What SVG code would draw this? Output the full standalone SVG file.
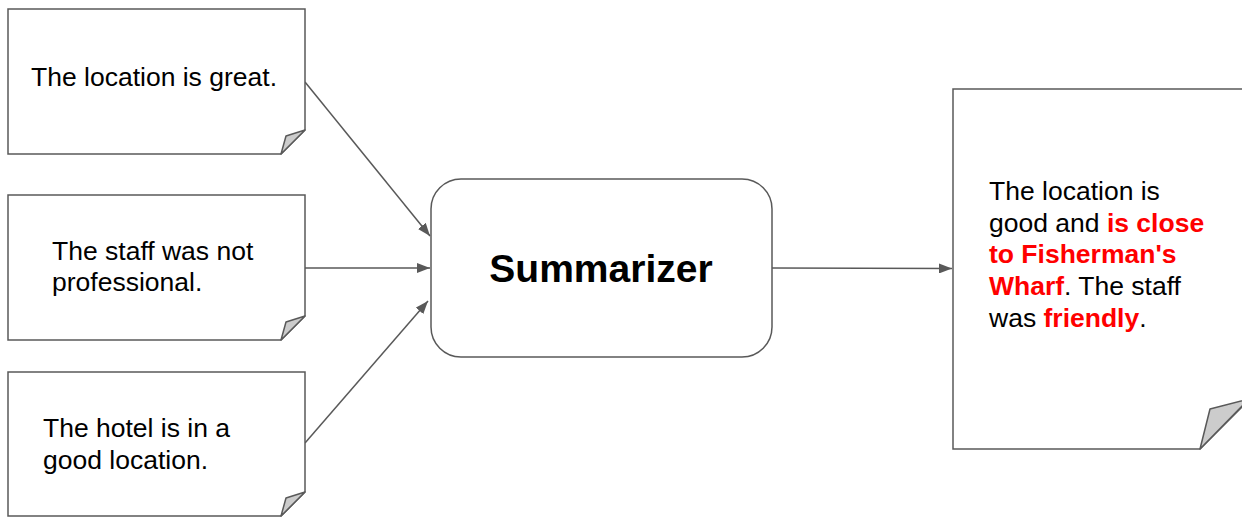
<svg xmlns="http://www.w3.org/2000/svg" width="1242" height="517" viewBox="0 0 1242 517">
<style>
.note{fill:#ffffff;stroke:#595959;stroke-width:1.5;stroke-linejoin:miter}
.fold{fill:#cccccc;stroke:#595959;stroke-width:1.5;stroke-linejoin:round}
.t{font-family:"Liberation Sans",Arial,sans-serif;font-size:26.5px;fill:#000000}
.r{font-weight:bold;fill:#ff0000}
.conn{fill:none;stroke:#595959;stroke-width:1.5}
</style>
<defs>
<marker id="ah" markerUnits="userSpaceOnUse" viewBox="0 0 13 10" refX="13" refY="5" markerWidth="13" markerHeight="10" orient="auto">
<path d="M0,0 L13,5 L0,10 Z" fill="#595959"/>
</marker>
</defs>
<rect width="1242" height="517" fill="#ffffff"/>
<g id="connectors">
<line class="conn" x1="305" y1="82" x2="430" y2="236" marker-end="url(#ah)"/>
<line class="conn" x1="305" y1="268" x2="430" y2="268" marker-end="url(#ah)"/>
<line class="conn" x1="305" y1="443" x2="428" y2="301" marker-end="url(#ah)"/>
<line class="conn" x1="772" y1="268" x2="952" y2="268.5" marker-end="url(#ah)"/>
</g>
<g id="note1">
<path class="note" d="M8,9 H305 V130 L281,154 H8 Z"/>
<path class="fold" d="M281,154 L286,136 L305,130 Z"/>
<text class="t" x="31" y="86">The location is great.</text>
</g>
<g id="note2">
<path class="note" d="M8,195 H305 V316 L281,340 H8 Z"/>
<path class="fold" d="M281,340 L286,322 L305,316 Z"/>
<text class="t" x="52" y="260">The staff was not</text>
<text class="t" x="52" y="291">professional.</text>
</g>
<g id="note3">
<path class="note" d="M8,372 H305 V492 L281,516 H8 Z"/>
<path class="fold" d="M281,516 L286,498 L305,492 Z"/>
<text class="t" x="43" y="437">The hotel is in a</text>
<text class="t" x="43" y="468.5">good location.</text>
</g>
<g id="summarizer">
<rect x="431" y="179" width="341" height="178" rx="30" ry="30" class="note"/>
<text x="601" y="281.5" text-anchor="middle" font-family="Liberation Sans, Arial, sans-serif" font-size="39" font-weight="bold" fill="#000000">Summarizer</text>
</g>
<g id="summary">
<path class="note" d="M953,89 H1249 V400 L1200,449 H953 Z"/>
<path class="fold" d="M1200,449 L1210,409 L1249,399 Z"/>
<text class="t" x="989" y="199.5">The location is</text>
<text class="t" x="989" y="231.5">good and <tspan class="r">is close</tspan></text>
<text class="t" x="989" y="263"><tspan class="r">to Fisherman's</tspan></text>
<text class="t" x="989" y="295"><tspan class="r">Wharf</tspan>. The staff</text>
<text class="t" x="989" y="327">was <tspan class="r">friendly</tspan>.</text>
</g>
</svg>
